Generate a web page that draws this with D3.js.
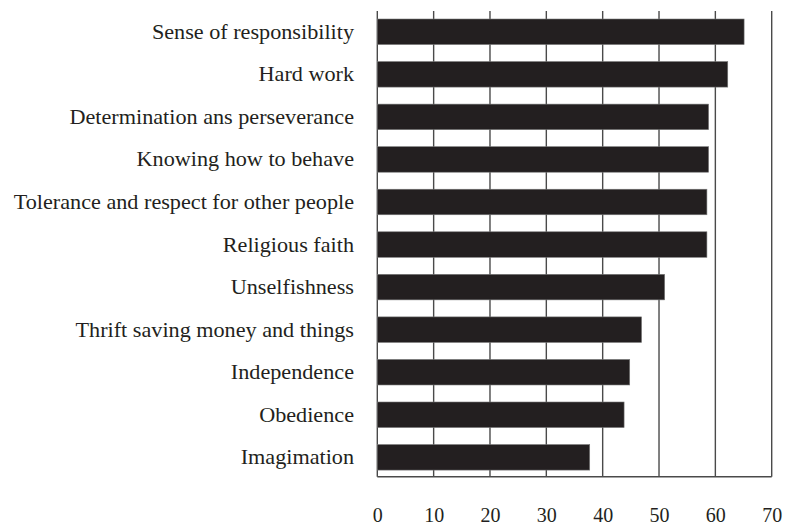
<!DOCTYPE html>
<html><head><meta charset="utf-8">
<script src="https://cdn.jsdelivr.net/npm/d3@7"></script>
<style>body{margin:0;background:#fff}svg{display:block}</style>
</head><body>
<svg id="c" width="786" height="525"></svg>
<script>
const categories = ["Sense of responsibility","Hard work","Determination ans perseverance","Knowing how to behave","Tolerance and respect for other people","Religious faith","Unselfishness","Thrift saving money and things","Independence","Obedience","Imagimation"];
const values = [65.1, 62.2, 58.8, 58.8, 58.5, 58.5, 51.0, 46.9, 44.8, 43.8, 37.7];
const ticks = [0,10,20,30,40,50,60,70];

(function(){
const svg = d3.select("#c");
const x = d3.scaleLinear().domain([0,70]).range([377.3, 771.7]);
const y = d3.scaleBand().domain(categories).range([10.5, 478.6]).paddingInner(0.4).paddingOuter(0.2);
const gTop = 11, gBottom = 476.7;
const ink = "#231f20", grid = "#4a4a4a";
const font = "'Liberation Serif', serif";
const sx = 1.11, labelRight = 354;

svg.append("g").selectAll("line").data(ticks).join("line")
  .attr("x1", d=>x(d)).attr("x2", d=>x(d)).attr("y1", gTop).attr("y2", gBottom)
  .attr("stroke", grid).attr("stroke-width", 1.4);
svg.append("line").attr("x1", x(0)).attr("x2", x(70)).attr("y1", gBottom).attr("y2", gBottom)
  .attr("stroke", grid).attr("stroke-width", 1.4);

svg.append("g").selectAll("rect").data(categories).join("rect")
  .attr("x", x(0)).attr("y", d=>y(d)).attr("width", (d,i)=>x(values[i])-x(0)).attr("height", y.bandwidth())
  .attr("fill", ink).attr("stroke", "#777").attr("stroke-width", 0.6);

svg.append("g").attr("transform", `scale(${sx},1)`)
  .selectAll("text").data(categories).join("text")
  .attr("x", labelRight / sx).attr("y", d=>y(d)+y.bandwidth()/2).attr("dy", "0.35em")
  .attr("text-anchor", "end").attr("fill", ink)
  .style("font-family", font).style("font-size", "20px").text(d=>d);

const xa = svg.append("g").attr("transform", `translate(0,${gBottom})`)
  .call(d3.axisBottom(x).tickValues(ticks).tickSize(0).tickPadding(31).tickFormat(d3.format("d")));
xa.select(".domain").remove();
xa.selectAll("text").attr("fill", ink).style("font-family", font).style("font-size", "20px");
})();
</script>
</body></html>
